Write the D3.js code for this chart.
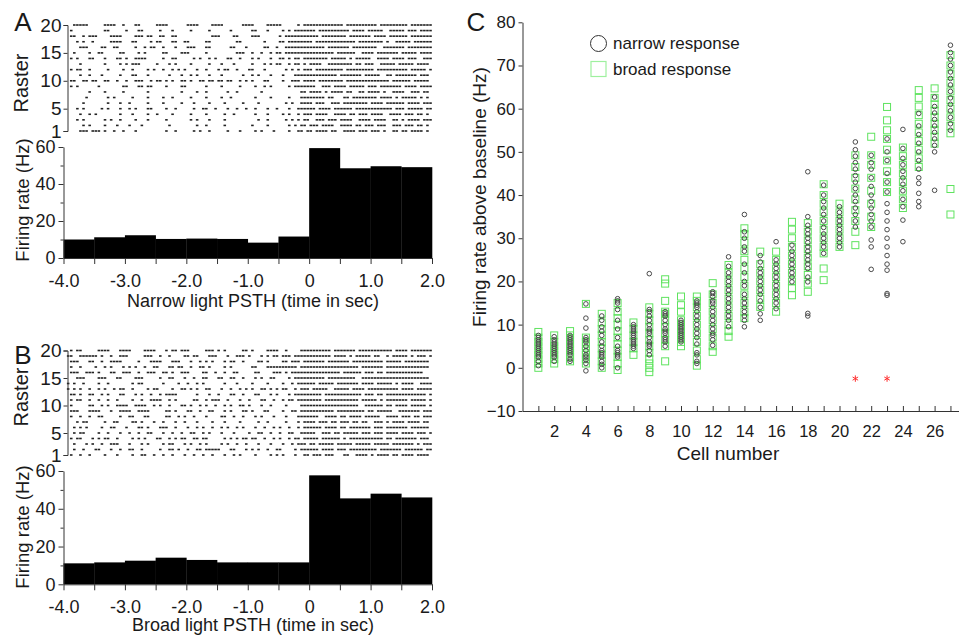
<!DOCTYPE html>
<html><head><meta charset="utf-8">
<script src="https://cdn.jsdelivr.net/npm/d3@7"></script>
<style>
body{margin:0;background:#fff}
svg{display:block}
text{font-family:Arial,"Liberation Sans",Helvetica,sans-serif;fill:#1a1a1a}
</style>
</head><body>
<svg id="c" width="959" height="636"></svg>
<script>
// ---------------- DATA ----------------
// PSTH bins (start time, s) and firing rates (Hz)
const binStarts = [-4,-3.5,-3,-2.5,-2,-1.5,-1,-0.5,0,0.5,1,1.5];
const narrowRates = [10,11.2,12.3,10.3,10.5,10.3,8.3,11.6,59.4,48.5,49.6,49.1];
const broadRates  = [11.1,11.6,12.5,14.1,12.9,11.6,11.6,11.6,57.7,45.5,48,46];
const timeTicks = [-4,-3.5,-3,-2.5,-2,-1.5,-1,-0.5,0,0.5,1,1.5,2];
const rasterTicks = [1,5,10,15,20];
const rateTicks = [0,20,40,60];

// Raster rows (top = trial 20 ... bottom = trial 1); each char = 50 ms from -4 s, 'x' = spike(s)
const narrowRaster = [
"...xxxxx.. ...xxxx..x ...xx..... xxxx...... xxxx....xx xx......xx xx....xxxx x.....x.xx xxxxxxxxxx x.xxxxxxxx xx.xxxxxxx xx.xxxxxxx",
"..x....... ...xx..... x...xx.... .x...x.... .x.....x.. ....x..... .xx...x... .x.x.xxxxx xx.xxxxxxx xxx.xxxx.x xxxx..xxxx x.xxx.xxxx",
"..xx..x.xx x....xxxx. ...xxx.xx. .xx..xx... ........xx x....xx... .xxx...... x.xxxxxxxx xxx.xxxxxx xx.xxxxxxx .xxxx.xxxx xx.xxxxxxx",
"....x.x..x .....xxxx. ..xx....x. xx...xx..x x.....xx.. ......xx.. .....x.... xx.xxxxxxx x.xxxxxxxx xxxxx.xxxx xxxx.x..xx xxx.xxxxxx",
".....xxx.. ..xx..xx.. ...x..x.xx ..x...x... xxx...xx.. ....xx...x .....xx..x ..xxxxxxxx xxxxx.xxxx xxx.xxxxxx xx..xxxxxx x.xxxxxxxx",
"...x....x. .xx.....xx ....x.x... ..xx....xx x.....x... ......xxx. .x..x..x.x x.xxxxxxxx xxxxxxxx.x xxxxx..xxx x.xxxxxxx. xxxxx.xxxx",
"..x.x...xx ...x...xx. x..xxxx... ..x..xx... ..x.x..x.x ...xx..x.. .x.x...x.. xx.x.xx.xx xxxxxx.xxx xx.x.xxxxx ..xxxx.xxx x.xxx..xxx",
".....x.... ...x....x. x.xxx..... x...x.x... .x.....x.. .x...x.... .x...x.x.x x..x.xx.x. xxxx..xxxx xxxx.xx.xx x..xxxxx.x xxxx.xxxx.",
"..x.xx..x. ....x....x ..x....x.x ..x..x.x.x ...x..x... x.xx..x... xx...x.... ..x.x.x.xx x.xxxxxxxx x.xxxxxxxx x.xxxxxxxx xx.xxxxx.x",
".....x..x. ..x.....x. ..xx...x.. ....x...x. .x.x...x.. .x......x. .x.x...x.. .x...xxxxx xxxxxxxxx. xxxxxxx.xx xxx..xx.xx xxxxx.xxx.",
"..xx..xx.x x..xx..x.. x..xxx..x. xx.x.x..xx .x..xx.xx. xx.xx..x.x .x...xx... .x..xxx.xx xx.xxxxxxx x.xxxxxxxx xxxxxx.xxx xxx.xxxxx.",
"..x.x..... .x.......x x...xx.xx. ...x....xx ......x... .x.....x.. ..x..x.x.. ...x.xxxxx xx..xxx.xx xx.xxxxx.x xx.xxxxxxx .xxxx.xxxx",
"........x. ...x.....x .......x.. ........x. ...x..x... ...x..x... ....x..... .......xx. xxxx.x.xxx x.xx..xx.x xxx.x..xxx x..xxx.xx.",
".......x.. ....x.x... ..x....x.. ..x..x.... .x....x... .x..x..... ..x....x.. ...x...xxx xxxxx.xx.. .xx.xxxxxx xx.xxxx.x. xxxxx.x.x.",
"......x... ....x...x. .x.....x.. ..x.....x. ..x....x.. ..x.....x. ...x...... ..x.x..xxx x.xxx..xxx .xxxxxxxx. xxxx.xxxxx x.xxxx.xxx",
"....x.x... ..x.x...x. .x.x...xx. ...x..x... ..x..xx..x ...x..x..x ..x...x..x ...x..xxxx xx.xxxx.xx xxxx.xxxxx xxxxxxx.xx x.xxxxx.xx",
".....x..x. x.......x. ..x....x.. x....x.... .x....x... ..x..x.... ..x...x... .x.x..x.xx x.xxxx..xx xx.xx.xxx. xxxx..xxxx .xxx.xx.x.",
"....x.x... ...x.x..x. ...x...x.. ...x...... .x.x...x.. ..x....... ...x..x... ..x.x.x.xx ..xxx.xxx. xxxx..xxxx .xxxx..xx. x.xxxx.xxx",
"......x.x. ...x...x.. .x...x.... ....x..... ...x..x... ..x....... .x....x... ...x.x.xx. xxx.xxxx.. xxxx.xx.xx x.xxx..xxx .xxx.xx.x.",
".....xxx.x xx.x..x..x ...x...... ...x..x... ..x.x..x.. ...x...x.. ..x.x...x. ...x..xx.x x.xxxx.xx. .xxxx.xxx. xxx.x..xx. xx.xxxx.x."
];
const broadRaster = [
"..x.xx.... .xxxx...xx xx....xxxx ...x.xx.xx x.....xxx. x.x.....xx .x....xxxx ..x....xxx xxxxxxx.xx xxxxx.xxxx xxxxxxx.xx xx.xxxxxxx",
".xx..xxxxx x.x..x..xx x.....xxx. .x..x....x x.xx...xxx ...x..xxx. x...x.x.xx .xxx.xxxxx xxxxxxx.xx xx.x.xxxxx .xx..x.xxx xx.x.xxx.x",
"..xxx...xx ..x..xxxx. ....x...xx xx...xxx.. .x..x.x.x. ..x.xx..x. ...xx.x... .xx.xxx.xx xxxxx.xxxx xxx.xxxxxx xxxx.xxxxx .xxxxxxxx.",
"..x..x.... x..x.x...x .x.x..x..x x...xx.xx. .x..xx.x.. ..x.x..... .xx...xxxx xxxxxx.xxx xxxxxxxxxx xxxxxx.xxx xxxx.xxxxx xxxxxxxxx.",
"..xxx..xxx .x...xx..x xx..x..xxx ..xx.x..xx x....xx..x ..x..xx... ..xx....xx x.x.xxxxxx xxxxxxxxxx .xxxxxx.xx x.xx.xxxxx xxxxxxx...",
"....xxx... .xxx...xx. ...xxx.... .x..xx...x ..x..xx... xx..xx..x. ..x.x..xx. ...x.xxxxx xxxxx.xxxx xxxxx..xxx xxxxxxxxxx xxxxxxxxx.",
".x.x..x... .x..x..... ..x.xx.... ..x....x.. x..x.x.... ..x...x... .x....x... .x..x.xxxx xx.xxxxx.x xxxxxx.xxx x.xxxxx.x. xxxx..xxxx",
".x.x.x..x. .x.x..x.xx ..x....x.x x....x..xx .x.x..xx.. .x..x..x.x .x..xx.x.x .xx..x.xxx .xxxxx..xx xxx.xxxx.x xxxxxxxxx. xxxx.xxxxx",
"..xx.x..xx ..x.x...xx ...x.x..x. .x.xxxx... ...x...x.. x...xx..x. ..xx...x.x ...x.xxxxx xxxx.xxxxx xxxxxxx.xx x.xx.xxxxx xxxxxxxx.x",
"..x.xx..x. .x..x..x.. ..x..x..xx xx..x.x... ..xx..x.xx x..x...x.. x...xx..x. .x.xx.xxxx xxxx.xxxxx xxxxxx.xxx xx.x.xxxxx xx.xxxxx.x",
"..x.....xx ..x.x..xxx x..xxxx..x .x..x...xx .x..x.x..x ..x.x..xx. x...x..x.. ..x....xxx xxxxxxxxxx xxxxxx..xx xxxx.xx.xx xx.xxxxx.x",
"..xxx...xx xx...x..xx xx..xxxx.. ...xx.x... xx..x..xx. ..x.x...xx .x...xx... .x..xx.xxx xxxxxxxx.x xxxxxxxx.x x.xxxxx..x xxxxxx.xxx",
"..x..x..x. .xx.....x. .xx...xx.. ...xx..x.x ..x...x... .xx..x..x. ..x.x...x. ..x...xxxx xxx..xxxx. xx.xxxx.xx xxx..xxxx. xxx.xx.xxx",
"....x.xx.. ...x..xx.. ..xx.x...x ..x...x..x ...x....x. ..x....x.. ...x..x... ..x...x.xx xx.xxx.xx. xxx.xx.xx. .xxx.x.xxx x.xxxx.xx.",
"...x.x.x.. ..x..xx... x...xx.x.. .xxx..x... x..x.x..x. .x.x..x.x. ..x..x..x. x..x..x.xx xxxx.xxxx. xx.xxxxxxx .xxx.xxxxx xx.xxxxxx.",
"...x.xx... .x..x...x. .x..x..xx. ..x..x..x. .xx..x.x.. .x...x.... x..xx..x.. x..xx..xxx xx..xxx.xx .xxxxx.xxx .xxx.xxxx. xxxx.xxx.x",
"..x.xx...x .x.xx..x.. ..x.x.x... xx..x.x.xx ..xx.xx... ..x.x.x.xx .xx..x..x. x..x.xx.xx xxx.xxxxxx .x.xxxxxxx xxxx.xx.xx xxxxx.xxx.",
"...x...x.x ..x..xxx.. .x...x.x.. ..x.xx...x .x..x.x... .x.x..x..x ...x...x.. .x..x.xxx. xx.xxxxx.x xxxx.xxxxx .xxxxx.xxx xxxx.x.xxx",
"...x..x... xx...x..x. .xx..x.... .x..xx.x.. x..xx.xxxx x...xx...x .x.x..x..x x....x.xxx xxx.xxxx.x xx.xxxxxxx xx.xxxxxxx .xxxxxx.xx",
"..x..x..x. ...x...x.. ..x..xx..x ..x..x...x ..x..x..x. ..x..x.x.. ..x....x.x .x...x..xx .xxx.xxx.. .xx..xxxx. x.xxxx.xx. xxxx.xxxx."
];

// Panel C: firing rate above baseline (Hz) per cell (index 0 = cell 1)
const narrowCells = [
[0.5,1.5,2.5,3,3.5,4,4.5,5,5.5,6,6.5,7,7.5],
[1.5,2.5,3,3.5,4,4.5,5,5.5,6,6.5,7.2],
[1.5,2,3,3.5,4,4.5,5,5.5,6,6.5,7,7.5],
[-0.7,1,1.8,2.5,3,4,5,6,6.5,7,9.2,11.5,14.8],
[0,0.8,1.5,2.5,3,3.5,4,5,6,7.5,8.5,9.5,11,12],
[0,2.5,3,3.5,4,5,7,9,11,13.5,15,15.5,16],
[4.5,5,5.5,6,6.5,7,7.5,8,8.5,9,9.5,10],
[3,4,5,5.5,6,7,8,8.5,9,10,11,12,13,13.5,21.8],
[5,6,6.5,7,8,8.5,9,10,11,12,12.5,13],
[6,6.5,7,7.5,8,8.5,9,9.5,10,10.5,11],
[1,1.5,3,3.5,5.5,7,8,9,10,11,12,13,14,14.5,15,15.5],
[5.2,6.5,7.5,8,9,10,11,12,13,14,15,15.5,16.5,17.2,17.6],
[9.5,11,12,13,14,15,16,17,18,19,20,21,22,23.5,25.7],
[9.5,11,12,13,14,15,16,17,19,20,22,24,27,28,30,31.5,35.5],
[11,12.5,14,15.5,17,18,19,20,21,22,23,24.5,26],
[13.7,15,16,17,18,19,20,21,22,23,24,25,29.2],
[19.9,21,22,23,24,25,26,27,28.4],
[12,12.6,19.9,21,23,24,25,26,27,28,29,30,31,32,33,35,45.4],
[26.5,28,29,30,31,32.5,34,35.5,37,38.5,40,42.3],
[28,29,30,31,32,33,34,35,36,37.3],
[32.6,34,35.5,37,38.5,40,41.5,43,44.5,46,47.5,49,50.5,52.3],
[22.8,28,29.6,32.6,34,35.5,37,38.5,40,42,44,46,47.5,49.2],
[16.8,17.2,22.6,24,26,28,30,32,34,36,38,40.7,43,45,48,50,53],
[29.2,34.2,37.3,39,41,42.5,44,45.5,47,48.5,50.8,55.2],
[37.3,38.5,40.4,42.7,44,46,48,50,52,54,56,58.9],
[41.1,50,51.5,53,54.5,56,57.5,59,60.5,62.7],
[55,56.5,58,59.5,61,62.5,64,65.5,67,68.5,70,71.5,73,74.7]
];
const broadCells = [
[0,1,2,3,4,5,6,7,8.3],
[1,2,3,4,5,6,7.5],
[1.5,2.5,3.5,4.5,5.5,6.5,7.5,8.5],
[1,2,3,4,5,6,7,14.8],
[0,1.5,3,4.5,6,7.5,9,10.5,12.5],
[-0.5,1,2.5,4,5.5,7,8.5,10,11.5,13,15],
[3,4.5,6,7.5,9,10.5],
[-1,0,1,2,3.5,5,6.5,8,9.5,11,12.5,14],
[1.5,5,6.5,8,9.5,11,12.5,13,15.5,19.5,20.5],
[5,6,7,8,9,10,11,13,14.5,16.5],
[0.5,2,4,6,8,10,12,14,15.5,16.5],
[3.7,5,7,9,11,13,15,17,19.6],
[7.2,8.5,10,12,14,16,18,20,22,23.8],
[11.5,13,15,17,19,21,23,25,27,29,31,32.3],
[14.1,16,18,20,22,24,26.9],
[13,15,17,19,21,23,25,26.9],
[16.8,18.5,20,22,24,26,28,30,32,33.8],
[17.6,19.5,21.5,23.5,25.5,27.5,29.5,31.5,33.5],
[20.3,23,26.5,28,30,32,34,36,38,40,42.5],
[28,30,32,34,36,38],
[28.4,31.5,34,36.5,39,41.5,44,46.5,49.2],
[32.6,35,38,41,44,47,49.2,53.5],
[40.7,43,45.5,48,50.5,53,55,57.3,60.4],
[37,39,41,43,45,47,49,51],
[46.5,48.5,50.5,52.5,54.5,56.5,58.5,60.5,62.5,64.3],
[51.9,53.5,55,56.5,58,59.5,61,62.5,64.7],
[35.5,41.4,54.3,56,58,60,62,64,66,68,70,72.4]
];
const outlierCells = [21,23];
const outlierValues = [-2.5,-2.5];
const cellTicks = d3.range(1,28);
const cellLabels = [2,4,6,8,10,12,14,16,18,20,22,24,26];
const cTicks = [-10,0,10,20,30,40,50,60,70,80];

// ---------------- DRAW ----------------
const svg = d3.select("#c");
const AX = "#333";

function styleAxis(g){
  g.selectAll("path,line").attr("stroke",AX).attr("stroke-width",1);
  g.selectAll("text").attr("fill","#1a1a1a").style("font-family","Arial, 'Liberation Sans', sans-serif");
}

const xT = d3.scaleLinear().domain([-4,2]).range([63.5,432]);

function drawPSTH(cfg){
  const g = svg.append("g");
  g.append("text").attr("x",23).attr("y",cfg.letterY).attr("text-anchor","middle")
    .attr("dominant-baseline","central").style("font-size","26px").text(cfg.letter);
  // raster
  const yR = d3.scaleLinear().domain([1,20]).range([cfg.rBottom,cfg.rTop]);
  const dt = 0.05;
  cfg.raster.forEach((row,i)=>{
    const trial = 20 - i;
    const s = row.replace(/ /g,"");
    const spikes = [];
    for(let j=0;j<s.length;j++) if(s[j]==="x") spikes.push(-4 + j*dt);
    g.append("g").selectAll("rect").data(spikes).join("rect")
      .attr("x",d=>xT(d+0.005)).attr("width",xT(dt)-xT(0)-0.5)
      .attr("y",yR(trial)-0.8).attr("height",1.6).attr("fill","#222");
  });
  const ra = g.append("g").attr("transform","translate(67.5,0)")
    .call(d3.axisLeft(yR).tickValues(rasterTicks).tickSize(4).tickSizeOuter(4).tickPadding(2));
  styleAxis(ra);
  ra.selectAll("text").style("font-size","19px");
  g.append("text").attr("transform",`translate(21,${cfg.rasterLabelY}) rotate(-90)`)
    .attr("text-anchor","middle").attr("dominant-baseline","central").style("font-size","20px").text("Raster");

  // histogram
  const yH = d3.scaleLinear().domain([0,60]).range([cfg.hBottom,cfg.hTop]);
  g.append("g").selectAll("rect").data(binStarts).join("rect")
    .attr("x",d=>xT(d)).attr("width",d=>xT(d+0.5)-xT(d)+0.3)
    .attr("y",(d,i)=>yH(cfg.rates[i])).attr("height",(d,i)=>yH(0)-yH(cfg.rates[i]))
    .attr("fill","#000");
  const ya = g.append("g").attr("transform","translate(63.5,0)")
    .call(d3.axisLeft(yH).tickValues(rateTicks).tickSize(5).tickSizeOuter(0).tickPadding(3));
  styleAxis(ya); ya.selectAll("text").style("font-size","18px");
  const ym = g.append("g").attr("transform","translate(63.5,0)")
    .call(d3.axisLeft(yH).tickValues([10,30,50]).tickSize(3).tickFormat(""));
  ym.select(".domain").remove(); styleAxis(ym);
  const xa = g.append("g").attr("transform",`translate(0,${cfg.hBottom})`)
    .call(d3.axisBottom(xT).tickValues(timeTicks).tickSize(6).tickSizeOuter(0).tickPadding(10)
      .tickFormat(d=>Number.isInteger(d)?(d===0?"0":d.toFixed(1)):""));
  styleAxis(xa); xa.selectAll("text").style("font-size","18px");
  g.append("text").attr("x",253).attr("y",cfg.hBottom+cfg.titleOff).attr("text-anchor","middle")
    .attr("dominant-baseline","central").style("font-size","18px").text(cfg.title);
  g.append("text").attr("transform",`translate(22,${cfg.rateLabelY}) rotate(-90)`)
    .attr("text-anchor","middle").attr("dominant-baseline","central").style("font-size","18.5px").text("Firing rate (Hz)");
}

drawPSTH({letter:"A",letterY:22,raster:narrowRaster,rTop:25,rBottom:131,rasterLabelY:83,
  rates:narrowRates,hTop:147,hBottom:258,title:"Narrow light PSTH (time in sec)",titleOff:43,rateLabelY:200});
drawPSTH({letter:"B",letterY:355,raster:broadRaster,rTop:350.5,rBottom:455,rasterLabelY:397,
  rates:broadRates,hTop:471,hBottom:584.3,title:"Broad light PSTH (time in sec)",titleOff:41,rateLabelY:527});

// ---------- Panel C ----------
const gc = svg.append("g");
const xC = d3.scaleLinear().domain([0,28]).range([522.5,966.3]);
const yC = d3.scaleLinear().domain([-10,80]).range([411,22.3]);
gc.append("text").attr("x",476).attr("y",22).attr("text-anchor","middle")
  .attr("dominant-baseline","central").style("font-size","26px").text("C");

const sq = 7;
broadCells.forEach((vals,i)=>{
  gc.append("g").selectAll("rect").data(vals).join("rect")
    .attr("x",xC(i+1)-sq/2).attr("y",d=>yC(d)-sq/2).attr("width",sq).attr("height",sq)
    .attr("fill","none").attr("stroke","#5fe35f").attr("stroke-width",1);
});
narrowCells.forEach((vals,i)=>{
  gc.append("g").selectAll("circle").data(vals).join("circle")
    .attr("cx",xC(i+1)).attr("cy",d=>yC(d)).attr("r",2.3)
    .attr("fill","none").attr("stroke","#4a4a4a").attr("stroke-width",1);
});
gc.append("g").selectAll("path").data(outlierCells).join("path")
  .attr("transform",(d,i)=>`translate(${xC(d)},${yC(outlierValues[i])})`)
  .attr("d",d3.symbol(d3.symbolAsterisk,28)).attr("fill","none").attr("stroke","#ff3030").attr("stroke-width",1);

const cya = gc.append("g").attr("transform","translate(522.5,0)")
  .call(d3.axisLeft(yC).tickValues(cTicks).tickSize(4).tickSizeOuter(0).tickPadding(3));
styleAxis(cya); cya.selectAll("text").style("font-size","17px");
const cxa = gc.append("g").attr("transform","translate(0,411)")
  .call(d3.axisBottom(xC).tickValues(cellTicks).tickSize(-5).tickSizeOuter(0).tickPadding(14)
    .tickFormat(d=>cellLabels.includes(d)?d:""));
styleAxis(cxa); cxa.selectAll("text").style("font-size","16.5px");
gc.append("text").attr("x",728).attr("y",453).attr("text-anchor","middle")
  .attr("dominant-baseline","central").style("font-size","19px").text("Cell number");
gc.append("text").attr("transform","translate(479,197) rotate(-90)")
  .attr("text-anchor","middle").attr("dominant-baseline","central").style("font-size","19px")
  .text("Firing rate above baseline (Hz)");

// legend
gc.append("circle").attr("cx",598.5).attr("cy",43.5).attr("r",8).attr("fill","none").attr("stroke","#333").attr("stroke-width",1);
gc.append("rect").attr("x",591).attr("y",61.5).attr("width",15).attr("height",15).attr("fill","none").attr("stroke","#9ef09e").attr("stroke-width",1.2);
gc.append("text").attr("x",613).attr("y",43.5).attr("dominant-baseline","central").style("font-size","17px").text("narrow response");
gc.append("text").attr("x",613).attr("y",69).attr("dominant-baseline","central").style("font-size","17px").text("broad response");
</script>
</body></html>
